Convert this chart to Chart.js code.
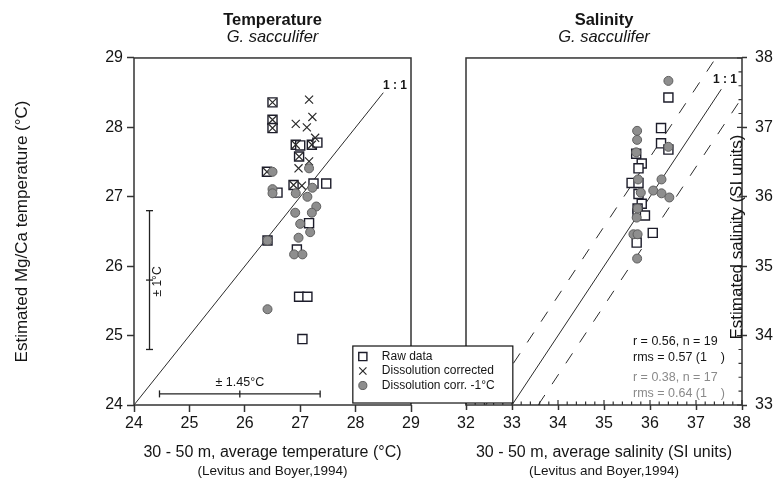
<!DOCTYPE html>
<html lang="en">
<head>
<meta charset="UTF-8">
<title>G. sacculifer - Mg/Ca temperature and salinity</title>
<script src="https://cdn.jsdelivr.net/npm/chart.js@4.4.1/dist/chart.umd.min.js"></script>
<style>
    body { margin: 0; background: #fff; }
    .panel { position: absolute; left: 0; top: 0; }
    #tempWrap { z-index: 2; }
    #salWrap { z-index: 1; }
</style>
</head>
<body>
<div class="panel" id="salWrap"><canvas id="salChart" width="773" height="479"></canvas></div>
<div class="panel" id="tempWrap"><canvas id="tempChart" width="773" height="479"></canvas></div>

<script>
// temperature panel: [30-50 m mean temperature, Mg/Ca temperature]
const tempTicks = [24, 25, 26, 27, 28, 29];
const tempRaw = [
    [26.50, 28.36], [26.50, 28.11], [26.50, 27.99], [27.21, 27.75], [27.31, 27.78],
    [26.92, 27.75], [27.00, 27.74], [26.98, 27.58], [26.40, 27.36], [26.88, 27.17],
    [27.24, 27.19], [27.47, 27.19], [26.59, 27.06], [27.16, 26.62], [26.41, 26.37],
    [26.94, 26.24], [26.98, 25.56], [27.13, 25.56], [27.04, 24.95]
];
const tempCorr = [
    [26.50, 28.36], [27.16, 28.40], [26.50, 28.11], [27.22, 28.15], [26.92, 28.05],
    [27.12, 28.00], [26.50, 27.99], [27.27, 27.85], [27.21, 27.75], [26.92, 27.75],
    [26.98, 27.58], [27.16, 27.51], [26.97, 27.41], [26.40, 27.36], [26.88, 27.17],
    [27.03, 27.16]
];
const tempCorrMinus1 = [
    [26.50, 27.36], [27.16, 27.41], [26.50, 27.11], [26.50, 27.05], [26.92, 27.05],
    [27.22, 27.13], [27.13, 27.00], [27.29, 26.86], [26.91, 26.77], [27.21, 26.77],
    [27.00, 26.61], [27.18, 26.49], [26.97, 26.41], [26.41, 26.37], [26.89, 26.17],
    [27.04, 26.17], [26.41, 25.38]
];
const tempOneToOne = [[24, 24], [28.5, 28.5]];
// uncertainty bars: position, centre, half width
const tempErrMgCa = { x: 24.28, centre: 25.8, half: 1 };
const tempErrWoa = { y: 24.16, centre: 25.91, half: 1.45 };

// salinity panel: [30-50 m mean salinity, estimated salinity]
const salXTicks = [32, 33, 34, 35, 36, 37, 38];
const salYTicks = [33, 34, 35, 36, 37, 38];
const salRaw = [
    [36.40, 37.43], [36.24, 36.99], [36.24, 36.77], [36.40, 36.68], [35.70, 36.62],
    [35.82, 36.48], [35.75, 36.41], [35.60, 36.20], [35.75, 36.20], [35.75, 36.04],
    [35.82, 35.90], [35.73, 35.83], [35.73, 35.76], [35.89, 35.73], [36.06, 35.48],
    [35.71, 35.34]
];
const salCorrMinus1 = [
    [36.40, 37.67], [35.72, 36.95], [35.72, 36.82], [36.40, 36.72], [35.70, 36.64],
    [35.74, 36.25], [36.25, 36.25], [36.07, 36.09], [36.25, 36.05], [36.42, 35.99],
    [35.80, 36.06], [35.73, 35.83], [35.71, 35.70], [35.64, 35.46], [35.73, 35.46],
    [35.72, 35.11]
];
const salOneToOne = [[33, 33], [37.55, 37.55]];
const salRms = 0.57;
const salStats = ['r = 0.56, n = 19', 'rms = 0.57 (1    )', 'r = 0.38, n = 17', 'rms = 0.64 (1    )'];

const FONT = 'Arial, "Liberation Sans", Helvetica, sans-serif';
const INK = '#151515';
const AXIS = '#333';
const GREY_TEXT = '#8a8a8a';

const pts = pairs => pairs.map(([x, y]) => ({ x, y }));

const markers = {
    raw: { pointStyle: 'rect', pointRadius: 6.4, pointBackgroundColor: '#fff', pointBorderColor: '#1c1c2a', pointBorderWidth: 1.4 },
    corr: { pointStyle: 'crossRot', pointRadius: 5.7, pointBackgroundColor: '#2a2a2a', pointBorderColor: '#2a2a2a', pointBorderWidth: 1.2 },
    corr1: { pointStyle: 'circle', pointRadius: 4.5, pointBackgroundColor: '#8e8e8e', pointBorderColor: '#5e5e5e', pointBorderWidth: 1 }
};

function pointSet(label, data, kind, order) {
    return Object.assign({ label, data: pts(data), order, pointHoverRadius: 0 }, markers[kind]);
}

function lineSet(data, dash) {
    return {
        label: '', data: pts(data), showLine: true, pointRadius: 0,
        borderColor: '#2b2b2b', borderWidth: 1, borderDash: dash || [], order: 5
    };
}

function barSet(data, rotation) {
    return {
        label: '', data: pts(data), showLine: true, borderColor: '#222', borderWidth: 1.3,
        pointStyle: 'line', pointRadius: 3.5, pointRotation: rotation,
        pointBorderColor: '#222', pointBorderWidth: 1.3, order: 5
    };
}

// small marker painter, same geometry as the chart's own point styles
function drawMarker(ctx, m, x, y, scale) {
    const r = m.pointRadius * scale;
    ctx.save();
    ctx.fillStyle = m.pointBackgroundColor;
    ctx.strokeStyle = m.pointBorderColor;
    ctx.lineWidth = m.pointBorderWidth;
    ctx.beginPath();
    if (m.pointStyle === 'rect') {
        const s = Math.SQRT1_2 * r;
        ctx.rect(x - s, y - s, 2 * s, 2 * s);
        ctx.fill();
    } else if (m.pointStyle === 'circle') {
        ctx.arc(x, y, r, 0, Math.PI * 2);
        ctx.fill();
    } else {
        const s = Math.SQRT1_2 * r;
        ctx.moveTo(x - s, y - s); ctx.lineTo(x + s, y + s);
        ctx.moveTo(x - s, y + s); ctx.lineTo(x + s, y - s);
    }
    ctx.stroke();
    ctx.restore();
}

const framePlugin = {
    id: 'frame',
    afterDatasetsDraw(chart) {
        const { ctx, chartArea: a } = chart;
        ctx.save();
        ctx.strokeStyle = AXIS;
        ctx.lineWidth = 1.5;
        ctx.strokeRect(a.left, a.top, a.right - a.left, a.bottom - a.top);
        ctx.restore();
    }
};

// free text placed in data units, plus the source line under the x title
const textPlugin = {
    id: 'panelText',
    afterDraw(chart, args, opts) {
        const { ctx, chartArea: a, scales: { x, y } } = chart;
        (opts.items || []).forEach(t => {
            ctx.save();
            ctx.translate(x.getPixelForValue(t.at[0]), y.getPixelForValue(t.at[1]));
            if (t.rotate) ctx.rotate(t.rotate * Math.PI / 180);
            ctx.font = (t.bold ? 'bold ' : '') + t.size + 'px ' + FONT;
            ctx.fillStyle = t.color || INK;
            ctx.textAlign = t.align || 'center';
            ctx.textBaseline = 'middle';
            ctx.fillText(t.text, 0, 0);
            ctx.restore();
        });
        if (opts.source) {
            ctx.save();
            ctx.font = '13.5px ' + FONT;
            ctx.fillStyle = INK;
            ctx.textAlign = 'center';
            ctx.textBaseline = 'middle';
            ctx.fillText(opts.source, (a.left + a.right) / 2, chart.height - 8);
            ctx.restore();
        }
    }
};

// minor ticks (0.2 units) pointing into the plot, salinity panel only
const innerTicks = {
    id: 'innerTicks',
    afterDatasetsDraw(chart) {
        const { ctx, chartArea: a, scales: { x, y } } = chart;
        ctx.save();
        ctx.strokeStyle = AXIS;
        ctx.lineWidth = 1.2;
        ctx.beginPath();
        for (let i = 0; i <= (x.max - x.min) * 5; i++) {
            const px = x.getPixelForValue(x.min + i / 5), len = i % 5 ? 3.5 : 5;
            ctx.moveTo(px, a.bottom); ctx.lineTo(px, a.bottom - len);
        }
        for (let i = 0; i <= (y.max - y.min) * 5; i++) {
            const py = y.getPixelForValue(y.min + i / 5), len = i % 5 ? 3.5 : 5;
            ctx.moveTo(a.right, py); ctx.lineTo(a.right - len, py);
        }
        ctx.stroke();
        ctx.restore();
    }
};

// boxed key, drawn on top of both panels
const keyPlugin = {
    id: 'boxKey',
    afterDraw(chart, args, opts) {
        const { ctx, scales: { x, y } } = chart;
        const left = x.getPixelForValue(opts.at[0]), top = y.getPixelForValue(opts.at[1]);
        ctx.save();
        ctx.fillStyle = '#fff';
        ctx.strokeStyle = '#111';
        ctx.lineWidth = 1.2;
        ctx.fillRect(left, top, opts.width, opts.height);
        ctx.strokeRect(left, top, opts.width, opts.height);
        ctx.font = '12px ' + FONT;
        ctx.textBaseline = 'middle';
        opts.entries.forEach((e, i) => {
            const cy = top + 10.5 + i * 14.5;
            drawMarker(ctx, markers[e.kind], left + 10, cy, 0.9);
            ctx.fillStyle = INK;
            ctx.fillText(e.label, left + 29, cy);
        });
        ctx.restore();
    }
};

function axis(min, max, ticks, pos, fit, tickLen, pad, title) {
    return {
        type: 'linear', position: pos, min, max,
        afterBuildTicks: s => { s.ticks = ticks.map(value => ({ value })); },
        afterFit: fit,
        grid: { drawOnChartArea: false, drawTicks: true, tickLength: tickLen, tickColor: AXIS, tickWidth: 1.5 },
        border: { display: false },
        ticks: { font: { family: FONT, size: 16 }, color: INK, padding: pad, maxRotation: 0 },
        title: title
    };
}

function headings(main, species) {
    return {
        title: { display: true, text: main, fullSize: false, color: INK,
                 font: { family: FONT, size: 16.5, weight: 'bold', lineHeight: 1.15 },
                 padding: { top: 10.5, bottom: 0 } },
        subtitle: { display: true, text: species, fullSize: false, color: INK,
                    font: { family: FONT, size: 16.5, style: 'italic', lineHeight: 1 },
                    padding: { top: 0, bottom: 12 } }
    };
}

const common = {
    responsive: false, devicePixelRatio: 1, animation: false, events: []
};

new Chart(document.getElementById('tempChart'), {
    type: 'scatter',
    data: {
        datasets: [
            pointSet('Dissolution corr. -1°C', tempCorrMinus1, 'corr1', 1),
            pointSet('Dissolution corrected', tempCorr, 'corr', 2),
            pointSet('Raw data', tempRaw, 'raw', 3),
            lineSet(tempOneToOne),
            barSet([[tempErrMgCa.x, tempErrMgCa.centre - tempErrMgCa.half],
                    [tempErrMgCa.x, tempErrMgCa.centre],
                    [tempErrMgCa.x, tempErrMgCa.centre + tempErrMgCa.half]], 0),
            barSet([[tempErrWoa.centre - tempErrWoa.half, tempErrWoa.y],
                    [tempErrWoa.centre, tempErrWoa.y],
                    [tempErrWoa.centre + tempErrWoa.half, tempErrWoa.y]], 90)
        ]
    },
    options: Object.assign({}, common, {
        layout: { padding: { left: 0, right: 362, top: 0, bottom: 0 } },
        scales: {
            x: axis(24, 29, tempTicks, 'bottom', s => { s.height = 74; }, 7, 2,
                { display: true, text: '30 - 50 m, average temperature (°C)', color: INK,
                  font: { family: FONT, size: 16 }, padding: { top: 0, bottom: 17 } }),
            y: axis(24, 29, tempTicks, 'left', s => { s.width = 134; }, 7, 4,
                { display: true, text: 'Estimated Mg/Ca temperature (°C)', color: INK,
                  font: { family: FONT, size: 17 }, padding: { top: 12, bottom: 0 } })
        },
        plugins: Object.assign(headings('Temperature', 'G. sacculifer'), {
            legend: { display: false },
            tooltip: { enabled: false },
            panelText: {
                source: '(Levitus and Boyer,1994)',
                items: [
                    { text: '1 : 1', at: [28.71, 28.6], size: 12, bold: true },
                    { text: '± 1°C', at: [24.43, 25.78], size: 12, rotate: -90 },
                    { text: '± 1.45°C', at: [25.91, 24.33], size: 12.5 }
                ]
            },
            boxKey: {
                at: [27.95, 24.85], width: 160, height: 57,
                entries: [
                    { kind: 'raw', label: 'Raw data' },
                    { kind: 'corr', label: 'Dissolution corrected' },
                    { kind: 'corr1', label: 'Dissolution corr. -1°C' }
                ]
            }
        })
    }),
    plugins: [framePlugin, textPlugin, keyPlugin]
});

new Chart(document.getElementById('salChart'), {
    type: 'scatter',
    data: {
        datasets: [
            pointSet('Dissolution corr. -1°C', salCorrMinus1, 'corr1', 1),
            pointSet('Raw data', salRaw, 'raw', 3),
            lineSet(salOneToOne),
            lineSet([[33 - salRms, 33], [38 - salRms, 38]], [12, 13]),
            lineSet([[33 + salRms, 33], [38, 38 - salRms]], [12, 13])
        ]
    },
    options: Object.assign({}, common, {
        layout: { padding: { left: 466, right: 0, top: 0, bottom: 0 } },
        scales: {
            x: axis(32, 38, salXTicks, 'bottom', s => { s.height = 74; }, 5, 4,
                { display: true, text: '30 - 50 m, average salinity (SI units)', color: INK,
                  font: { family: FONT, size: 16 }, padding: { top: 0, bottom: 17 } }),
            y: axis(33, 38, salYTicks, 'right', s => { s.width = 31; }, 5, 8,
                { display: false })
        },
        plugins: Object.assign(headings('Salinity', 'G. sacculifer'), {
            legend: { display: false },
            tooltip: { enabled: false },
            panelText: {
                source: '(Levitus and Boyer,1994)',
                items: [
                    { text: '1 : 1', at: [37.63, 37.68], size: 12, bold: true },
                    { text: 'Estimated salinity (SI units)', at: [37.9, 35.42], size: 17, rotate: -90 },
                    { text: salStats[0], at: [35.63, 33.91], size: 12.5, align: 'left' },
                    { text: salStats[1], at: [35.63, 33.69], size: 12.5, align: 'left' },
                    { text: salStats[2], at: [35.63, 33.39], size: 12.5, align: 'left', color: GREY_TEXT },
                    { text: salStats[3], at: [35.63, 33.17], size: 12.5, align: 'left', color: GREY_TEXT }
                ]
            }
        })
    }),
    plugins: [innerTicks, framePlugin, textPlugin]
});
</script>
</body>
</html>
